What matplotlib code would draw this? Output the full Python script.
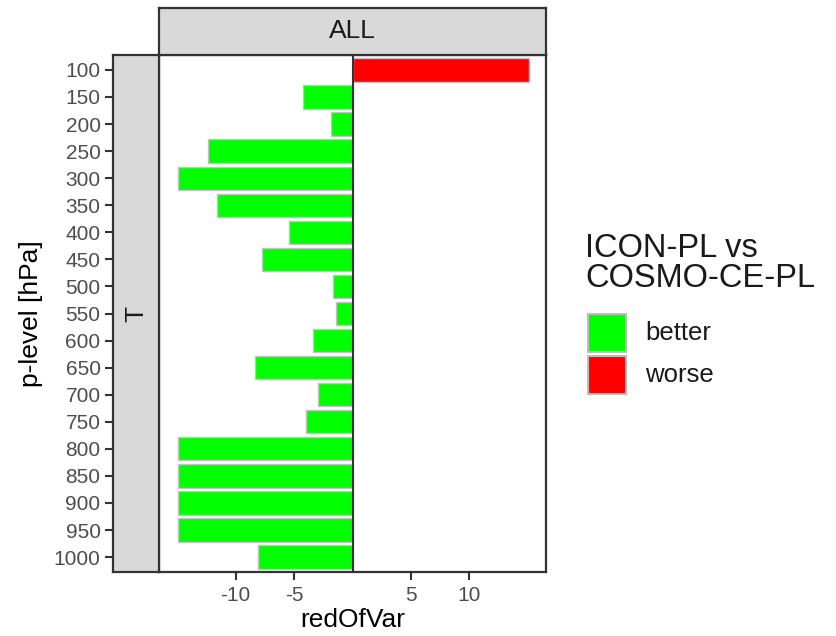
import matplotlib
matplotlib.use("Agg")
import matplotlib.pyplot as plt
from matplotlib.patches import Rectangle

plt.rcParams['font.family'] = ['Liberation Sans', 'DejaVu Sans']

# pressure levels (top of the panel = 100 hPa)
levels = ["100", "150", "200", "250", "300", "350", "400", "450", "500", "550",
          "600", "650", "700", "750", "800", "850", "900", "950", "1000"]
red_of_var = [15.1, -4.2, -1.85, -12.4, -14.9, -11.6, -5.4, -7.7, -1.65, -1.45,
              -3.35, -8.3, -2.95, -4.0, -14.9, -14.9, -14.9, -14.9, -8.1]
x_ticks = [-10, -5, 5, 10]
legend_title = "ICON-PL vs\nCOSMO-CE-PL"
legend_labels = ["better", "worse"]
legend_colors = ["#00FF00", "#FF0000"]

W, H = 836, 636
fig = plt.figure(figsize=(W / 100, H / 100), dpi=100)


def frac(x0, y0, x1, y1):
    """pixel box (top-left origin) -> figure fraction rect"""
    return [x0 / W, 1 - y1 / H, (x1 - x0) / W, (y1 - y0) / H]


border = "#333333"
strip_fill = "#D9D9D9"
tick_col = "#4D4D4D"

ax = fig.add_axes(frac(159, 55, 546, 572))
ax_strip_y = fig.add_axes(frac(113, 55, 159, 572), sharey=ax)
ax_strip_x = fig.add_axes(frac(159, 8, 546, 55))

ypos = list(range(len(levels)))
colors = [legend_colors[1] if v > 0 else legend_colors[0] for v in red_of_var]
ax.barh(ypos, red_of_var, height=0.86, color=colors, edgecolor="#C8C0C8",
        linewidth=1.0, zorder=2)
ax.axvline(0, color=border, linewidth=1.5, zorder=3)
ax.set_xlim(-16.55, 16.55)
ax.set_ylim(len(levels) - 0.45, -0.55)
ax.set_xticks(x_ticks)
ax.set_xticklabels([str(t) for t in x_ticks])
ax.tick_params(axis="x", length=6, width=1.5, color=border, labelsize=15,
               labelcolor=tick_col, pad=4)
ax.tick_params(axis="y", left=False, labelleft=False)
for s in ax.spines.values():
    s.set_color(border)
    s.set_linewidth(1.6)
ax.set_xlabel("redOfVar", fontsize=19, labelpad=2)

# left strip carries the level ticks
ax_strip_y.set_facecolor(strip_fill)
ax_strip_y.set_xticks([])
ax_strip_y.set_yticks(ypos)
ax_strip_y.set_yticklabels(levels)
ax_strip_y.tick_params(axis="y", length=6, width=1.5, color=border, labelsize=15,
                       labelcolor=tick_col, pad=3)
for s in ax_strip_y.spines.values():
    s.set_color(border)
    s.set_linewidth(1.6)
ax_strip_y.text(0.5, 0.5, "T", transform=ax_strip_y.transAxes, rotation=90,
                ha="center", va="center", fontsize=19, color="#1A1A1A")
ax_strip_y.set_ylabel("p-level [hPa]", fontsize=19, labelpad=8)

# top strip
ax_strip_x.set_facecolor(strip_fill)
ax_strip_x.set_xticks([])
ax_strip_x.set_yticks([])
for s in ax_strip_x.spines.values():
    s.set_color(border)
    s.set_linewidth(1.6)
ax_strip_x.text(0.5, 0.5, "ALL", transform=ax_strip_x.transAxes,
                ha="center", va="center", fontsize=19, color="#1A1A1A")

# legend
fig.text(585 / W, 1 - 233 / H, legend_title, fontsize=23.5, ha="left", va="top",
         linespacing=0.95, color="#1A1A1A")
key_tops = [314, 356]
for top, lab, col in zip(key_tops, legend_labels, legend_colors):
    fig.add_artist(Rectangle((588 / W, 1 - (top + 38) / H), 38 / W, 38 / H,
                             transform=fig.transFigure, facecolor=col,
                             edgecolor="#BDBDBD", linewidth=1.5))
    fig.text(645 / W, 1 - (top + 19) / H, lab, fontsize=18.5, ha="left",
             va="center", color="#1A1A1A")

fig.savefig("out.png", dpi=100)
